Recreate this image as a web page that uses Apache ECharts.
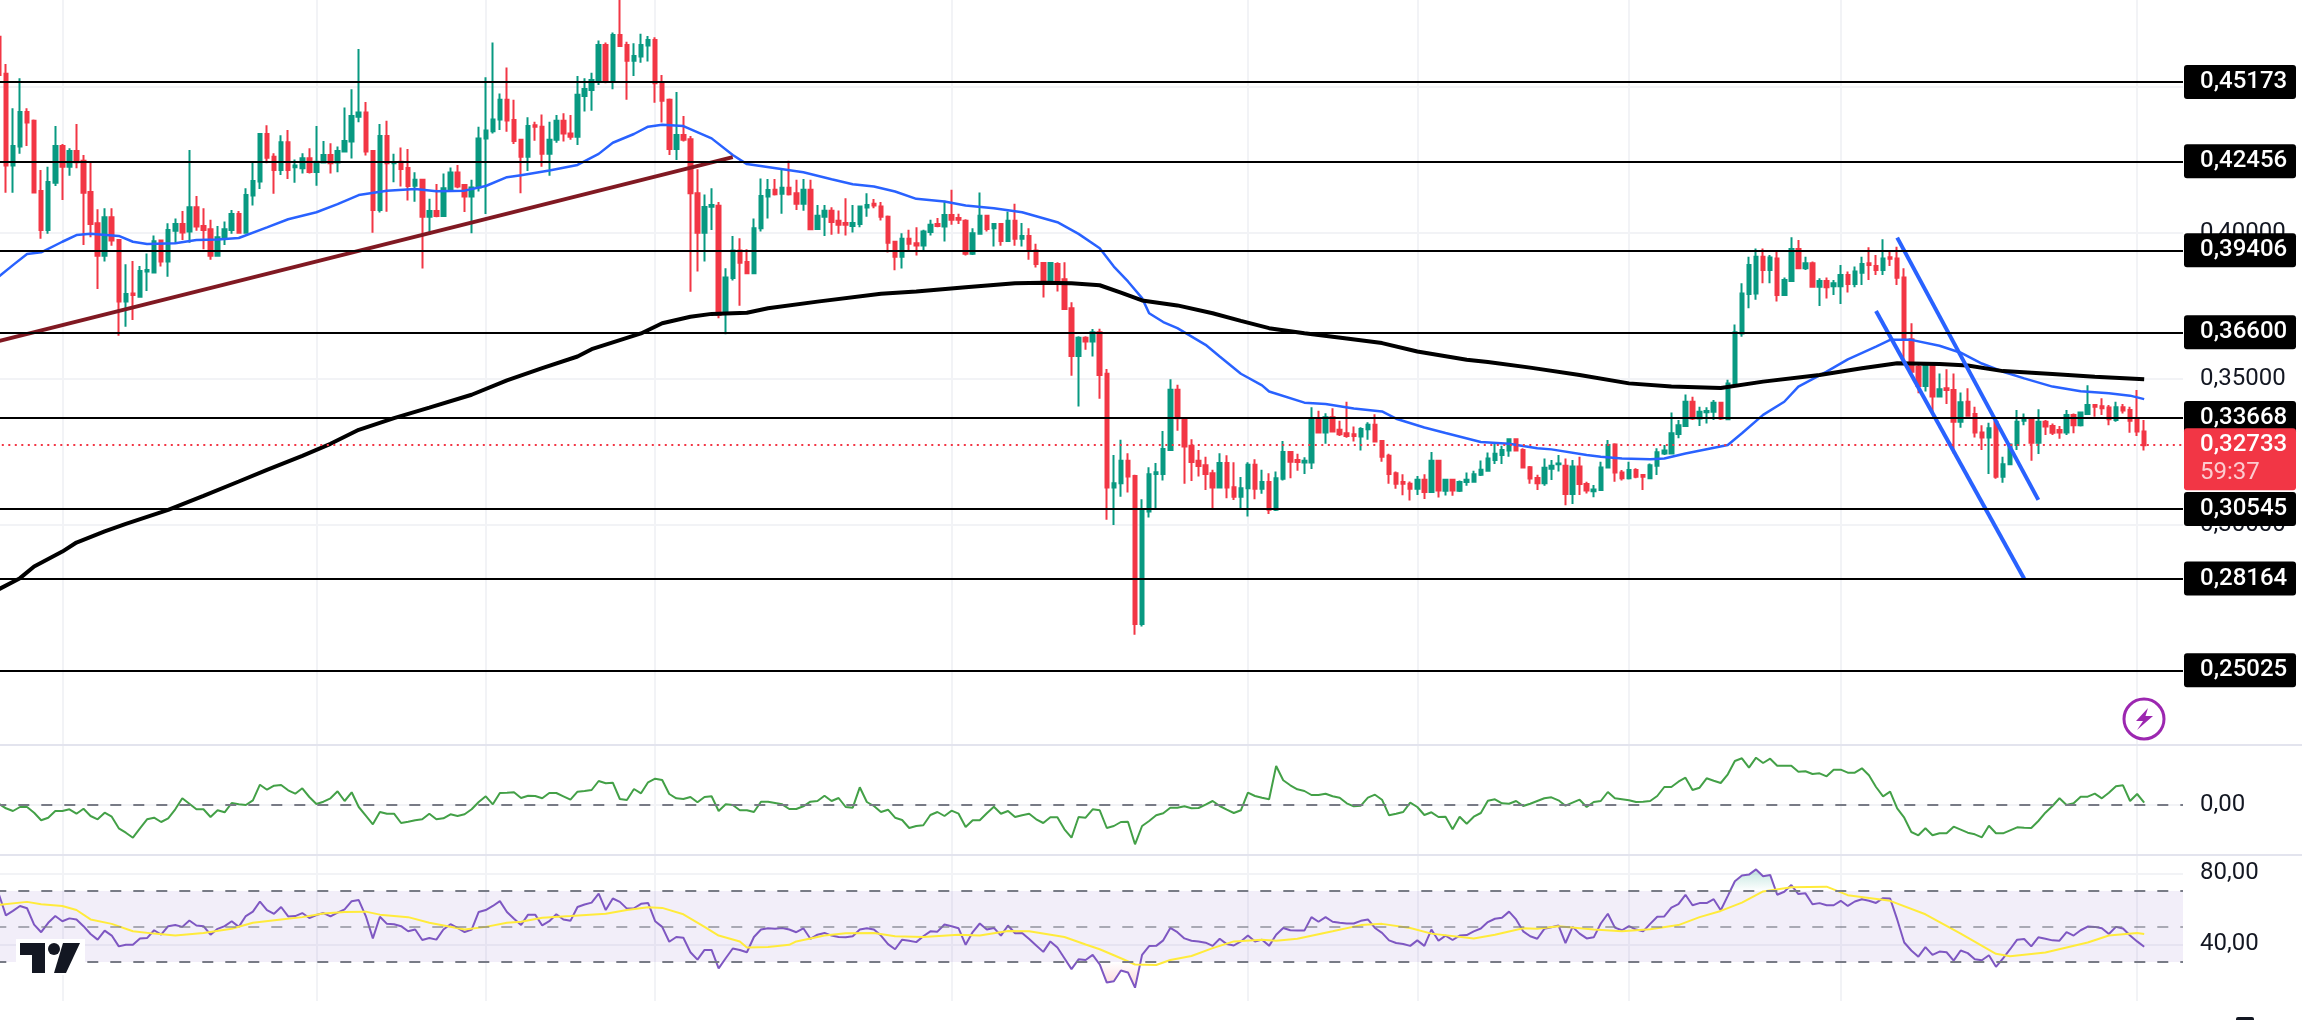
<!DOCTYPE html>
<html>
<head>
<meta charset="utf-8">
<style>html,body{margin:0;padding:0;background:#fff}#chart{width:2302px;height:1020px}</style>
<script src="https://cdn.jsdelivr.net/npm/echarts@6/dist/echarts.min.js"></script>
</head>
<body>
<div id="chart"></div>
<script>
// candles, left to right
const opens = [
.4672,.4545,.4231,.4296,.4414,.4384,.4144,.4010,.4172,.4298,.4227,.4281,.4247,.4140,.4033,.3922,.4054,.3976,.3765,.3793,
.3782,.3868,.3865,.3974,.3902,.4008,.4031,.4005,.4088,.4024,.4013,.3922,.3984,.4010,.4065,.4001,.4128,.4176,.4339,.4261,
.4216,.4311,.4225,.4222,.4256,.4209,.4241,.4267,.4241,.4279,.4313,.4398,.4413,.4281,.4079,.4332,.4239,.4244,.4223,.4162,
.4182,.4056,.4075,.4058,.4151,.4207,.4164,.4125,.4156,.4324,.4348,.4389,.4456,.4387,.4319,.4261,.4369,.4364,.4271,.4319,
.4384,.4341,.4330,.4469,.4490,.4518,.4644,.4521,.4678,.4644,.4590,.4604,.4642,.4661,.4513,.4456,.4288,.4336,.4321,.4136,
.4001,.4090,.4093,.3725,.3846,.3940,.3901,.3862,.4016,.4125,
.4148,.4134,.4155,.4136,.4100,.4148,.4014,.4056,.4076,.4042,.4034,.4024,.4031,.4087,.4100,.4091,.4056,.3970,.3919,.3980,
.3965,.3957,.4003,.4031,.4022,.4062,.4051,.4042,.3929,.3997,.4059,.4016,.4031,.3973,.4042,.3980,.3990,.3940,.3897,.3832,
.3894,.3842,.3742,.3579,.3641,.3628,.3660,
.3518,.3128,.3143,.3220,.3168,.2661,.3046,.3175,.3175,.3257,.3463,.3366,.3271,.3220,.3205,.3177,.3128,.3212,.3129,.3097,
.3126,.3206,.3124,.3147,.3052,.3158,.3250,.3223,.3214,.3214,.3366,.3317,.3369,.3326,.3314,.3311,.3303,.3328,.3343,.3288,
.3237,.3177,.3147,.3141,.3124,.3155,.3113,.3220,.3117,.3155,.3117,.3147,.3148,.3172,.3186,.3223,.3240,.3255,.3294,.3257,
.3198,.3161,
.3143,.3193,.3208,.3203,.3106,.3200,.3140,.3116,.3120,.3197,.3276,.3180,.3160,.3188,.3171,.3160,.3203,.3245,.3245,.3312,
.3339,.3422,.3365,.3386,.3388,.3419,.3362,.3483,.3656,.3791,.3793,.3919,.3873,.3913,.3788,.3836,.3945,.3879,.3896,.3816,
.3836,.3818,.3818,.3856,.3825,.3864,.3896,.3887,.3873,.3917,.3913,.3848,.3636,.3542,.3476,.3551,.3440,.3468,.3462,.3354,
.3422,.3380,.3317,.3300,.3354,.3165,.3208,.3274,.3357,.3362,.3282,.3354,.3339,.3325,.3317,.3377,.3342,.3380,.3411,.3407,
.3402,.3360,.3403,.3394,.3360,.3320
];
const closes = [
.4541,.4231,.4298,.4414,.4378,.4139,.4010,.4175,.4298,.4227,.4281,.4242,.4138,.4031,.3922,.4054,.3974,.3765,.3791,.3788,
.3870,.3873,.3972,.3902,.4010,.4031,.4002,.4088,.4022,.4010,.3922,.3985,.4013,.4065,.4001,.4130,.4178,.4339,.4258,.4216,
.4311,.4216,.4231,.4256,.4209,.4244,.4267,.4239,.4281,.4315,.4401,.4413,.4279,.4079,.4332,.4239,.4242,.4219,.4161,.4182,
.4056,.4075,.4058,.4153,.4207,.4159,.4125,.4156,.4324,.4351,.4389,.4456,.4385,.4315,.4261,.4366,.4364,.4271,.4319,.4384,
.4341,.4330,.4473,.4493,.4524,.4644,.4518,.4678,.4640,.4590,.4606,.4644,.4661,.4513,.4453,.4288,.4336,.4319,.4136,.4001,
.4089,.4096,.3719,.3848,.3940,.3898,.3862,.4016,.4127,.4147,
.4133,.4155,.4133,.4100,.4148,.4013,.4059,.4076,.4038,.4028,.4028,.4034,.4091,.4096,.4094,.4056,.3967,.3919,.3980,.3963,
.3957,.4005,.4028,.4024,.4062,.4045,.4045,.3929,.3999,.4059,.4014,.4031,.3973,.4042,.3980,.3990,.3939,.3894,.3832,.3897,
.3837,.3740,.3579,.3641,.3628,.3660,.3514,
.3128,.3143,.3220,.3166,.2661,.3050,.3174,.3181,.3260,.3463,.3366,.3269,.3216,.3202,.3175,.3128,.3212,.3128,.3097,.3126,
.3206,.3124,.3147,.3052,.3160,.3250,.3217,.3216,.3220,.3366,.3317,.3369,.3320,.3311,.3305,.3305,.3329,.3343,.3286,.3234,
.3175,.3141,.3141,.3124,.3155,.3113,.3220,.3118,.3155,.3118,.3147,.3155,.3174,.3189,.3228,.3244,.3257,.3294,.3255,.3197,
.3159,.3143,
.3196,.3203,.3211,.3106,.3200,.3140,.3118,.3122,.3197,.3274,.3180,.3160,.3188,.3165,.3165,.3205,.3249,.3255,.3314,.3342,
.3422,.3365,.3388,.3390,.3419,.3365,.3485,.3660,.3793,.3890,.3919,.3873,.3916,.3788,.3839,.3945,.3879,.3896,.3816,.3836,
.3814,.3828,.3856,.3825,.3868,.3894,.3890,.3873,.3913,.3912,.3847,.3634,.3525,.3476,.3546,.3440,.3465,.3462,.3354,.3420,
.3374,.3317,.3300,.3331,.3165,.3208,.3276,.3354,.3365,.3282,.3354,.3337,.3316,.3317,.3377,.3342,.3385,.3411,.3405,.3400,
.3362,.3403,.3392,.3357,.3320,.32733
];
const lows = [
.4513,.4138,.4138,.4271,.4298,.4136,.3980,.3997,.4161,.4113,.4196,.4222,.3959,.3985,.3808,.3902,.3956,.3648,.3679,.3702,
.3779,.3801,.3862,.3885,.3850,.3965,.3976,.3967,.4008,.3944,.3908,.3921,.3959,.3997,.3999,.3999,.4094,.4151,.4239,.4134,
.4199,.4185,.4172,.4204,.4204,.4162,.4239,.4204,.4208,.4279,.4255,.4379,.4265,.4001,.4070,.4073,.4174,.4159,.4111,.4107,
.3878,.3993,.4054,.4056,.4147,.4153,.4072,.3999,.4142,.4065,.4341,.4353,.4347,.4305,.4136,.4212,.4316,.4227,.4196,.4309,
.4313,.4319,.4301,.4416,.4419,.4507,.4513,.4492,.4638,.4456,.4538,.4583,.4587,.4446,.4378,.4267,.4250,.4313,.3799,.3868,
.3902,.4010,.3708,.3653,.3837,.3751,.3860,.3860,.4005,.4050,
.4128,.4066,.4128,.4079,.4076,.4011,.4014,.3990,.3994,.3997,.3991,.4002,.4020,.4056,.4085,.4043,.3933,.3872,.3878,.3939,
.3923,.3939,.3991,.4020,.3971,.4028,.4031,.3923,.3925,.3997,.4005,.3954,.3956,.3971,.3956,.3954,.3908,.3882,.3779,.3825,
.3800,.3739,.3511,.3406,.3600,.3577,.3432,
.3018,.3000,.3097,.3111,.2624,.2652,.3026,.3057,.3152,.3255,.3323,.3141,.3151,.3166,.3120,.3055,.3126,.3092,.3086,.3052,
.3029,.3088,.3107,.3038,.3048,.3152,.3160,.3186,.3175,.3192,.3314,.3278,.3317,.3305,.3299,.3286,.3255,.3292,.3284,.3217,
.3141,.3124,.3102,.3084,.3103,.3089,.3111,.3094,.3101,.3100,.3113,.3134,.3147,.3168,.3185,.3209,.3209,.3234,.3254,.3194,
.3141,.3120,
.3134,.3154,.3183,.3068,.3072,.3103,.3108,.3095,.3120,.3194,.3148,.3152,.3156,.3160,.3120,.3158,.3171,.3240,.3243,.3297,
.3337,.3360,.3339,.3348,.3360,.3360,.3360,.3479,.3645,.3742,.3771,.3828,.3828,.3765,.3785,.3833,.3876,.3873,.3813,.3750,
.3776,.3788,.3757,.3796,.3814,.3822,.3839,.3856,.3856,.3887,.3822,.3567,.3519,.3451,.3457,.3388,.3437,.3414,.3245,.3333,
.3371,.3300,.3257,.3175,.3158,.3145,.3206,.3257,.3342,.3220,.3243,.3308,.3308,.3295,.3308,.3314,.3337,.3377,.3371,.3377,
.3342,.3354,.3382,.3316,.3305,.3255
];
const highs = [
.4687,.4579,.4427,.4530,.4427,.4389,.4216,.4227,.4366,.4305,.4290,.4373,.4267,.4242,.4081,.4085,.4085,.3978,.3893,.3904,
.3887,.3930,.3991,.3976,.4033,.4050,.4075,.4284,.4127,.4085,.4045,.4024,.4039,.4079,.4075,.4153,.4244,.4339,.4369,.4273,
.4335,.4353,.4252,.4273,.4290,.4366,.4315,.4307,.4296,.4430,.4492,.4630,.4449,.4284,.4373,.4384,.4271,.4293,.4288,.4208,
.4182,.4117,.4168,.4204,.4224,.4233,.4164,.4182,.4364,.4533,.4652,.4478,.4567,.4456,.4319,.4396,.4381,.4406,.4381,.4404,
.4410,.4404,.4538,.4530,.4549,.4659,.4652,.4687,.4830,.4655,.4650,.4682,.4675,.4670,.4541,.4461,.4483,.4401,.4332,.4218,
.4132,.4153,.4106,.3879,.3990,.3982,.3944,.4050,.4187,.4185,
.4185,.4219,.4247,.4182,.4185,.4182,.4096,.4096,.4088,.4077,.4119,.4096,.4093,.4136,.4116,.4106,.4060,.3971,.3999,.4011,
.4020,.4011,.4045,.4051,.4110,.4148,.4066,.4047,.4016,.4139,.4062,.4034,.4031,.4074,.4100,.4034,.4016,.3963,.3897,.3900,
.3900,.3900,.3763,.3646,.3646,.3671,.3672,
.3534,.3240,.3292,.3246,.3172,.3088,.3198,.3212,.3322,.3499,.3480,.3368,.3294,.3257,.3234,.3189,.3246,.3239,.3215,.3164,
.3215,.3225,.3189,.3177,.3183,.3288,.3250,.3244,.3232,.3403,.3391,.3383,.3400,.3357,.3422,.3337,.3335,.3352,.3379,.3288,
.3244,.3183,.3174,.3149,.3168,.3174,.3250,.3223,.3158,.3157,.3152,.3180,.3186,.3221,.3248,.3278,.3271,.3297,.3296,.3263,
.3202,.3172,
.3228,.3223,.3240,.3228,.3223,.3234,.3148,.3137,.3217,.3291,.3280,.3188,.3217,.3194,.3175,.3211,.3263,.3274,.3385,.3360,
.3447,.3439,.3405,.3403,.3428,.3422,.3497,.3687,.3828,.3919,.3947,.3947,.3925,.3942,.3848,.3985,.3976,.3919,.3902,.3845,
.3848,.3839,.3890,.3868,.3885,.3919,.3951,.3925,.3979,.3936,.3953,.3879,.3691,.3554,.3554,.3554,.3519,.3533,.3519,.3454,
.3468,.3405,.3342,.3350,.3360,.3234,.3280,.3394,.3382,.3365,.3396,.3360,.3348,.3339,.3394,.3382,.3388,.3479,.3414,.3434,
.3411,.3422,.3414,.3405,.3462,.3360
];
const lastPrice = 0.32733;
const countdown = '59:37';

// horizontal levels drawn on the chart
const levels = [.45173,.42456,.39406,.366,.33668,.30545,.28164,.25025];
const priceTicks = [.25,.3,.35,.4,.45];

// blue and black averages, [candle index] and [value]
const blueIdx = [0,2,4,6,9,11,13,17,19,21,25,28,31,34,38,41,45,48,51,55,59,62,66,69,72,74,78,82,85,87,90,92,94,97,101,104,106,
114,118,121,124,127,130,134,137,141,145,150,153,156,158,160,162,163,165,167,171,173,176,179,180,185,188,192,196,198,202,205,210,214,218,
220,225,227,230,234,236,239,245,247,250,253,255,259,262,266,268,271,275,278,281,284,287,291,295,299,302,304];
const blueVals = [.3851,.3890,.3928,.3934,.3970,.3993,.3997,.3990,.3970,.3962,.3965,.3976,.3978,.3983,.4019,.4047,.4071,.4099,.4130,.4145,.4151,.4143,.4145,.4161,.4191,.4198,.4214,.4233,.4271,.4309,.4339,.4364,.4371,.4366,.4324,.4267,.4236,
.4208,.4184,.4167,.4159,.4142,.4117,.4108,.4094,.4085,.4071,.4037,.3997,.3948,.3885,.3834,.3777,.3725,.3695,.3674,.3617,.3577,.3518,.3478,.3457,.3419,.3414,.3399,.3389,.3364,.3334,.3315,.3284,.3278,.3263,
.3259,.3240,.3234,.3228,.3225,.3228,.3245,.3274,.3314,.3377,.3422,.3474,.3525,.3567,.3611,.3634,.3634,.3614,.3590,.3553,.3525,.3502,.3474,.3458,.3451,.3443,.3431];
const blackIdx = [0,3,5,9,11,15,18,24,29,34,38,43,47,51,56,61,67,72,77,82,84,91,94,98,101,106,109,
116,125,130,137,144,148,152,156,159,162,167,172,176,180,185,191,196,201,208,211,217,
224,231,237,244,250,258,264,269,275,279,284,291,297,304];
const blackVals = [.2780,.2818,.2858,.2909,.2940,.2978,.3004,.3052,.3100,.3149,.3189,.3237,.3278,.3326,.3366,.3402,.3446,.3495,.3537,.3577,.3602,.3656,.3691,.3713,.3723,.3727,.3742,
.3765,.3792,.3800,.3814,.3828,.3830,.3828,.3821,.3796,.3769,.3752,.3725,.3699,.3674,.3657,.3639,.3623,.3594,.3566,.3558,.3539,
.3514,.3485,.3474,.3469,.3491,.3514,.3537,.3554,.3551,.3546,.3527,.3517,.3508,.3499];

// hand drawn trend lines, two ends each: candle index, price
const trendIdx = [0,104], trendVals = [.3630,.4260];
const channelAIdx = [269,289], channelAVals = [.3984,.3086];
const channelBIdx = [266,287], channelBVals = [.3733,.2816];

// middle pane
const momentum = [
.013,-.033,-.06,-.02,-.02,-.077,-.153,-.127,-.06,-.06,-.043,-.087,-.037,-.11,-.143,-.077,-.117,-.233,-.277,-.327,
-.233,-.143,-.127,-.17,-.133,-.043,.067,.013,-.043,-.043,-.12,-.053,-.073,.02,.007,0,.047,.203,.153,.193,
.2,.147,.113,.167,.08,.01,.033,.067,.137,.04,.127,-.02,-.107,-.193,-.07,-.087,-.087,-.18,-.167,-.153,
-.143,-.087,-.143,-.133,-.093,-.11,-.093,-.043,.03,.087,.007,.12,.123,.127,.07,.093,.09,.067,.12,.12,
.087,.053,.133,.14,.15,.24,.217,.223,.06,.05,.16,.117,.227,.263,.25,.11,.067,.06,.08,.027,
.08,.087,-.06,.007,0,-.053,-.053,-.07,.033,.033,
.02,.007,-.04,-.04,-.013,.033,.04,.093,.04,.07,-.02,-.027,.177,.03,-.01,-.07,-.047,-.127,-.15,-.23,
-.21,-.203,-.1,-.07,-.11,-.057,-.087,-.22,-.153,-.153,-.083,-.017,-.087,-.06,-.12,-.103,-.087,-.143,-.18,-.123,
-.123,-.243,-.327,-.12,-.127,-.043,-.053,-.23,-.21,-.17,-.167,-.393,-.21,-.16,-.103,-.083,-.027,-.027,-.013,-.033,
-.03,.003,.04,-.01,-.047,-.08,-.053,.123,.09,.073,.057,.39,.247,.197,.157,.14,.1,.1,.113,.087,
.073,.017,-.013,-.007,.073,.103,.053,-.103,-.087,-.07,.023,-.02,-.1,-.073,-.12,-.117,-.243,-.117,-.187,-.117,
-.08,.043,.057,.017,.013,.04,-.01,.013,.04,
.067,.077,.047,-.007,.023,.053,-.02,.03,.04,.13,.067,.057,.047,.03,.033,.04,.09,.18,.18,.233,
.273,.15,.173,.267,.243,.22,.307,.44,.467,.373,.473,.42,.463,.393,.393,.393,.333,.337,.31,.317,
.287,.353,.353,.323,.323,.367,.297,.18,.087,.133,-.033,-.127,-.27,-.303,-.233,-.303,-.283,-.283,-.217,-.247,
-.277,-.293,-.323,-.207,-.283,-.283,-.253,-.223,-.227,-.23,-.16,-.077,-.01,.067,0,.017,.083,.083,.113,.067,
.123,.187,.197,.04,.11,.023
];

// lower pane
const rsi = [
68.3,56.3,58.8,61.6,60.3,51.1,46.8,52.1,55.9,53.0,54.6,54.0,50.2,45.8,42.6,47.7,44.9,38.8,39.7,39.7,
43.3,43.5,47.9,45.4,50.2,50.9,49.8,53.4,50.6,50.2,45.4,48.7,50.2,53.0,49.8,55.9,58.4,64.1,59.3,57.2,
61.0,55.7,55.9,57.6,54.8,56.5,57.6,55.7,57.8,59.7,64.3,64.9,55.9,43.3,55.5,51.5,51.3,50.2,47.3,48.3,
42.4,43.5,42.6,48.3,51.3,49.2,46.9,48.3,58.2,59.3,61.6,64.3,58.2,54.4,50.9,56.7,56.7,50.6,53.0,56.9,
54.0,53.2,61.0,62.4,63.5,68.5,59.3,65.8,63.9,60.1,60.3,62.8,63.3,53.0,49.8,41.4,44.1,43.7,35.5,31.3,
36.8,36.8,26.4,32.1,37.6,36.8,35.5,44.1,48.3,49.0,
48.7,49.2,48.3,46.8,49.0,43.1,45.4,46.4,44.9,44.1,43.9,44.5,48.3,49.0,48.3,44.9,40.1,37.2,42.6,42.0,
41.2,44.5,47.3,47.1,51.1,50.2,49.0,39.7,46.9,51.7,48.3,49.2,44.9,50.6,46.2,46.4,42.9,39.3,35.7,41.6,
38.2,32.1,26.0,31.5,31.1,34.0,28.6,18.4,19.1,25.2,24.1,15.5,34.0,39.0,39.1,42.2,49.2,46.8,43.3,42.0,
41.6,40.9,39.1,43.1,40.1,39.3,41.6,45.0,41.6,42.6,39.1,45.4,49.2,47.9,47.7,47.7,55.3,52.7,55.3,52.7,
52.1,51.7,51.7,53.2,54.0,49.2,46.4,42.2,40.7,40.1,39.1,42.2,39.1,48.3,42.0,44.9,42.4,44.9,45.2,47.3,
48.9,52.5,54.4,55.0,58.4,54.0,47.3,44.5,43.1,
48.7,49.6,50.6,40.7,49.8,46.0,43.3,43.9,51.7,57.2,49.4,47.9,50.2,48.3,47.3,51.5,55.5,55.7,60.7,62.6,
67.9,62.0,63.2,63.2,65.4,59.2,67.3,75.5,78.8,79.3,82.2,78.4,79.1,67.9,69.6,73.4,68.3,68.7,62.6,63.2,
62.0,62.0,64.5,61.6,64.1,65.4,64.5,63.3,66.0,65.8,54.0,41.0,36.5,33.0,38.4,34.0,35.9,35.5,30.8,36.5,
35.0,31.5,31.0,33.8,27.3,32.1,37.2,42.6,43.0,38.8,43.9,43.1,42.2,42.0,46.8,44.9,47.9,50.0,49.8,49.0,
45.8,49.8,48.9,44.9,41.6,38.6
];
const rsiAvgIdx = [0,4,6,9,11,13,16,19,22,25,29,33,36,40,43,46,49,52,54,58,61,66,69,72,74,77,81,86,89,92,94,97,100,102,105,106,109,
112,113,117,120,124,127,131,136,139,143,146,151,154,156,159,161,164,166,169,172,175,179,181,184,189,193,196,200,203,209,212,216,218,
221,226,230,234,238,241,244,247,250,254,259,262,268,273,278,283,285,290,296,299,303,304];
const rsiAvgVals = [62.2,63.9,62.6,61.6,59.3,54.0,51.5,47.3,46.0,44.9,46.4,48.7,52.1,54.0,55.3,57.4,58.2,58.4,56.7,55.3,52.1,48.3,49.8,52.1,52.7,55.0,55.9,57.2,59.3,60.9,60.5,56.9,49.8,44.9,41.6,38.2,38.4,
39.7,41.6,44.9,46.2,46.4,44.5,44.1,45.4,44.9,47.5,47.3,44.1,39.9,37.2,32.1,28.6,28.3,31.1,33.4,37.8,41.6,42.6,42.0,43.1,47.3,50.8,51.5,49.2,46.0,43.3,45.4,49.0,48.7,
50.2,48.3,47.3,48.5,50.8,55.3,58.8,63.5,69.8,72.1,72.5,67.7,64.5,56.9,46.0,34.6,33.2,35.3,41.0,44.9,46.4,45.8];
const rsiTicks = [40,80];
const rsiBands = [70,50,30];

// time gridlines sit on these candles, the picture has no time labels
const timeTicks = [9,45,69,93,135,177,201,231,261,303];
const categories = Array.from({ length: 310 }, (_, i) => i);

const UP = '#089981', DOWN = '#f23645', BLUE = '#2962ff', GRID = '#f2f3f6', SEP = '#e3e4ee';
const FONT = 'Roboto';
const comma = (v, n) => v.toFixed(n).replace('.', ',');
// read points go in by candle position, the gaps are joined by connectNulls
const onCandles = (idx, vals) => {
    const out = categories.map(() => null);
    idx.forEach((x, i) => { out[x] = vals[i]; });
    return out;
};

// values that leave the 30-70 band, for the small shaded areas
const beyond = (test, edge) => rsi.map((v, i) => {
    if (test(v)) return v;
    return test(rsi[i - 1]) || test(rsi[i + 1]) ? edge : null;
});

const xAxisFor = gridIndex => ({
    type: 'category',
    gridIndex,
    data: categories,
    axisLine: { show: false },
    axisTick: { show: false },
    axisLabel: { show: false },
    splitLine: {
        show: true,
        alignWithLabel: true,
        interval: i => timeTicks.includes(i),
        lineStyle: { color: GRID, width: 2 }
    }
});

const lineSeries = (data, color, width, extra) => Object.assign({
    type: 'line',
    data,
    connectNulls: true,
    showSymbol: false,
    silent: true,
    lineStyle: { color, width },
    itemStyle: { color }
}, extra);

const chart = echarts.init(document.getElementById('chart'));

const option = {
    animation: false,
    backgroundColor: '#fff',
    grid: [
        { left: -4.7, width: 2187.7, top: 0, height: 745, outerBoundsMode: 'none' },
        { left: -4.7, width: 2187.7, top: 745, height: 110, outerBoundsMode: 'none' },
        { left: -4.7, width: 2187.7, top: 855.6, height: 145.4, outerBoundsMode: 'none' }
    ],
    xAxis: [xAxisFor(0), xAxisFor(1), xAxisFor(2)],
    yAxis: [
        {
            type: 'value', gridIndex: 0, position: 'right', min: .22466, max: .47979,
            axisLine: { show: false },
            axisTick: { show: false, customValues: priceTicks },
            axisLabel: {
                margin: 17, color: '#131722', fontFamily: FONT, fontSize: 24,
                customValues: priceTicks,
                formatter: v => comma(v, 5)
            },
            splitLine: { show: true, lineStyle: { color: GRID, width: 2 } }
        },
        {
            type: 'value', gridIndex: 1, position: 'right', min: -.5, max: .6,
            axisLine: { show: false },
            axisTick: { show: false, customValues: [0] },
            axisLabel: {
                margin: 17, color: '#131722', fontFamily: FONT, fontSize: 24,
                customValues: [0],
                formatter: v => comma(v, 2)
            },
            splitLine: { show: true, lineStyle: { color: GRID, width: 2 } }
        },
        {
            type: 'value', gridIndex: 2, position: 'right', min: 8, max: 90,
            axisLine: { show: false },
            axisTick: { show: false, customValues: rsiTicks },
            axisLabel: {
                margin: 17, color: '#131722', fontFamily: FONT, fontSize: 24,
                customValues: rsiTicks,
                formatter: v => comma(v, 2)
            },
            splitLine: { show: true, lineStyle: { color: GRID, width: 2 } }
        }
    ],
    series: [
        {
            type: 'candlestick',
            silent: true,
            z: 1,
            barWidth: 4,
            data: opens.map((o, i) => [o, closes[i], lows[i], highs[i]]),
            itemStyle: { color: UP, color0: DOWN, borderColor: UP, borderColor0: DOWN, borderWidth: 2 }
        },
        lineSeries(onCandles(blueIdx, blueVals), BLUE, 2.5, { z: 3 }),
        lineSeries(onCandles(blackIdx, blackVals), '#000', 4, { z: 3 }),
        lineSeries(onCandles(trendIdx, trendVals), '#801922', 4, {
            z: 4,
            markLine: {
                silent: true,
                symbol: 'none',
                precision: 5,
                lineStyle: { color: '#000', width: 2, type: 'solid' },
                label: {
                    show: true, position: 'end', distance: 1,
                    formatter: p => comma(p.value, 5),
                    color: '#fff', fontFamily: FONT, fontSize: 24, fontWeight: 500,
                    backgroundColor: '#000', borderRadius: 3,
                    width: 96, height: 23, lineHeight: 23, padding: [7, 0, 4, 16]
                },
                data: levels.map(v => ({ yAxis: v }))
            }
        }),
        lineSeries(onCandles(channelAIdx, channelAVals), BLUE, 4, { z: 4 }),
        lineSeries(onCandles(channelBIdx, channelBVals), BLUE, 4, {
            z: 4,
            markLine: {
                silent: true,
                symbol: 'none',
                precision: 5,
                label: { show: false },
                lineStyle: { color: DOWN, width: 2, type: [2, 4.5] },
                data: [{ yAxis: lastPrice }]
            }
        }),
        lineSeries(momentum, '#43a047', 2, {
            xAxisIndex: 1, yAxisIndex: 1, z: 3,
            markLine: {
                silent: true,
                symbol: 'none',
                label: { show: false },
                lineStyle: { color: '#787b86', width: 2, type: [11, 12] },
                data: [{ yAxis: 0 }]
            }
        }),
        lineSeries(beyond(v => v > 70, 70), 'transparent', 0, {
            xAxisIndex: 2, yAxisIndex: 2, z: 2,
            connectNulls: false,
            areaStyle: {
                origin: 70,
                color: new echarts.graphic.LinearGradient(0, 0, 0, 1, [
                    { offset: 0, color: 'rgba(8,153,129,.35)' },
                    { offset: 1, color: 'rgba(8,153,129,0)' }
                ])
            }
        }),
        lineSeries(beyond(v => v < 30, 30), 'transparent', 0, {
            xAxisIndex: 2, yAxisIndex: 2, z: 2,
            connectNulls: false,
            areaStyle: {
                origin: 30,
                color: new echarts.graphic.LinearGradient(0, 0, 0, 1, [
                    { offset: 0, color: 'rgba(242,54,69,0)' },
                    { offset: 1, color: 'rgba(242,54,69,.3)' }
                ])
            }
        }),
        lineSeries(rsi, '#7e57c2', 2, {
            xAxisIndex: 2, yAxisIndex: 2, z: 3,
            markArea: {
                silent: true,
                itemStyle: { color: 'rgba(126,87,194,.1)' },
                data: [[{ yAxis: rsiBands[0] }, { yAxis: rsiBands[2] }]]
            },
            markLine: {
                silent: true,
                symbol: 'none',
                label: { show: false },
                lineStyle: { width: 2, type: [11, 12] },
                data: [
                    { yAxis: rsiBands[0], lineStyle: { color: '#787b86' } },
                    { yAxis: rsiBands[1], lineStyle: { color: 'rgba(120,123,134,.6)' } },
                    { yAxis: rsiBands[2], lineStyle: { color: '#787b86' } }
                ]
            }
        }),
        lineSeries(onCandles(rsiAvgIdx, rsiAvgVals), '#ffeb3b', 2, { xAxisIndex: 2, yAxisIndex: 2, z: 3 })
    ]
};

chart.setOption(option);

// last price tag follows the price scale, the rest is page furniture
const tagY = chart.convertToPixel({ yAxisIndex: 0 }, lastPrice);
chart.setOption({
    graphic: [
        { type: 'rect', z: 0, shape: { x: 0, y: 744, width: 2302, height: 2 }, style: { fill: SEP } },
        { type: 'rect', z: 0, shape: { x: 0, y: 854, width: 2302, height: 2 }, style: { fill: SEP } },
        { type: 'rect', z: 20, shape: { x: 2184, y: tagY - 17, width: 112, height: 62, r: 3 }, style: { fill: DOWN } },
        { type: 'text', z: 21, x: 2200, y: tagY, style: { text: comma(lastPrice, 5), fill: '#fff', font: '500 24px ' + FONT, verticalAlign: 'middle' } },
        { type: 'text', z: 21, x: 2200, y: tagY + 28, style: { text: countdown, fill: 'rgba(255,255,255,.75)', font: '400 24px ' + FONT, verticalAlign: 'middle' } },
        // flash icon
        { type: 'ellipse', z: 20, shape: { cx: 2144, cy: 719, rx: 20, ry: 20 }, style: { fill: '#fff', stroke: '#9c27b0', lineWidth: 3 } },
        { type: 'polygon', z: 21, shape: { points: [[2148, 708], [2136, 721], [2143, 721], [2137, 730], [2153, 716], [2145.5, 716]] }, style: { fill: '#9c27b0' } },
        // logo
        { type: 'rect', z: 20, shape: { x: 16, y: 939, width: 69, height: 36 }, style: { fill: '#fff' } },
        { type: 'polygon', z: 21, shape: { points: [[20, 943], [45, 943], [45, 973], [32, 973], [32, 955], [20, 955]] }, style: { fill: '#131722' } },
        { type: 'circle', z: 21, shape: { cx: 54, cy: 949, r: 6 }, style: { fill: '#131722' } },
        { type: 'polygon', z: 21, shape: { points: [[63, 943], [80, 943], [66, 973], [54, 973]] }, style: { fill: '#131722' } },
        // edge of a button cut off at the bottom
        { type: 'rect', z: 21, shape: { x: 2236, y: 1017, width: 18, height: 3, r: [2, 2, 0, 0] }, style: { fill: '#131722' } }
    ]
});
</script>
</body>
</html>
